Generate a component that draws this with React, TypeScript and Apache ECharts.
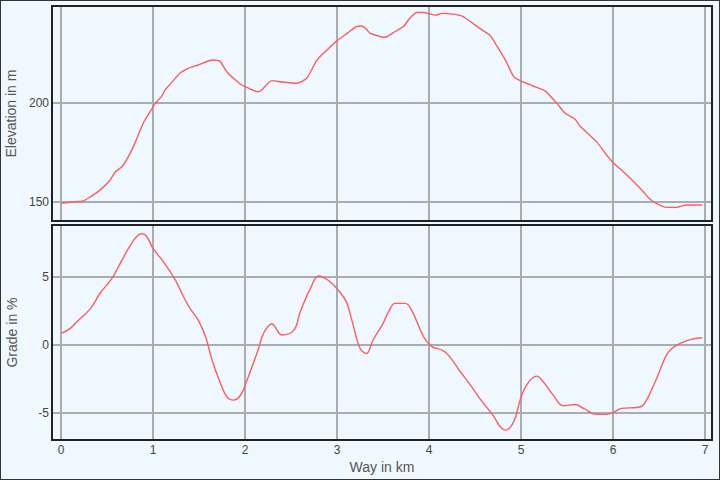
import React, { useEffect, useRef } from "react";
import * as echarts from "echarts";

const elevKm = [0, 0.12, 0.24, 0.32, 0.42, 0.53, 0.59, 0.66, 0.75, 0.8, 0.86, 0.91, 0.99, 1.02, 1.09, 1.13, 1.2, 1.29, 1.38, 1.49, 1.6, 1.66, 1.73, 1.8, 1.95, 2.02, 2.14, 2.18, 2.29, 2.4, 2.56, 2.67, 2.78, 2.89, 3.0, 3.11, 3.21, 3.27, 3.32, 3.36, 3.52, 3.61, 3.72, 3.79, 3.87, 3.94, 4.07, 4.14, 4.26, 4.36, 4.45, 4.55, 4.66, 4.74, 4.83, 4.92, 4.99, 5.13, 5.26, 5.39, 5.48, 5.59, 5.64, 5.82, 5.93, 6.0, 6.15, 6.33, 6.39, 6.47, 6.58, 6.69, 6.8, 6.97];
const elevM = [149.3, 150, 150.5, 152.7, 156, 161, 165.3, 167.8, 174.6, 179.6, 186.4, 191.4, 197.3, 199.8, 203.2, 206.6, 210.3, 215, 217.5, 219.2, 221.2, 221.7, 220.9, 215.8, 209.5, 207.9, 205.7, 206.6, 211.3, 210.6, 210, 212.5, 221.7, 226.8, 231.5, 235.2, 238.6, 238.9, 237.2, 235.2, 233.2, 235.5, 238.6, 242.8, 245.7, 245.7, 244.4, 245.3, 244.9, 243.9, 241.1, 237.7, 234.3, 228.5, 221.7, 213.3, 211.3, 208.6, 206.1, 199.8, 194.8, 191.7, 188.4, 180.5, 173.7, 170, 163.6, 155.2, 151.9, 149.3, 147.3, 147.3, 148.5, 148.5];

const gradeKm = [0, 0.1, 0.17, 0.32, 0.42, 0.55, 0.64, 0.73, 0.82, 0.88, 0.93, 1.0, 1.11, 1.24, 1.33, 1.4, 1.49, 1.57, 1.64, 1.73, 1.8, 1.87, 1.95, 2.02, 2.14, 2.2, 2.29, 2.4, 2.53, 2.6, 2.71, 2.8, 2.91, 3.01, 3.1, 3.16, 3.25, 3.32, 3.39, 3.5, 3.56, 3.63, 3.74, 3.81, 3.94, 4.03, 4.14, 4.21, 4.34, 4.45, 4.55, 4.68, 4.83, 4.92, 4.99, 5.06, 5.17, 5.24, 5.35, 5.46, 5.59, 5.68, 5.82, 5.93, 6.0, 6.09, 6.26, 6.33, 6.45, 6.58, 6.64, 6.73, 6.86, 6.97];
const gradePct = [0.86, 1.23, 1.72, 2.7, 3.8, 4.9, 6.0, 7.1, 8.0, 8.2, 8.0, 7.1, 6.15, 4.8, 3.56, 2.7, 1.84, 0.61, -1.1, -2.8, -3.8, -4.06, -3.7, -2.6, -0.37, 0.86, 1.55, 0.74, 1.1, 2.46, 4.18, 5.09, 4.74, 4.06, 3.2, 1.84, -0.25, -0.62, 0.37, 1.6, 2.46, 3.07, 3.07, 2.58, 0.61, -0.12, -0.37, -0.74, -1.97, -2.95, -3.93, -5.04, -6.27, -5.65, -4.06, -2.95, -2.29, -2.7, -3.69, -4.47, -4.38, -4.67, -5.11, -5.11, -4.99, -4.67, -4.6, -4.42, -2.83, -0.74, -0.25, 0.12, 0.44, 0.54];

const FONT = "'Liberation Sans', Arial, sans-serif";
const LINE = "#ff5c5c";
const GRIDC = "#a9adb2";

const GRID_L = 52;
const GRID_W = 660;
const TOP1 = 6;
const TOP2 = 225;
const GRID_H = 215;

export default function App() {
  const ref = useRef<HTMLDivElement>(null);
  useEffect(() => {
    if (!ref.current) return;
    const chart = echarts.init(ref.current, undefined, { renderer: "svg" });
    const xCommon = {
      type: "value" as const,
      min: -0.1,
      max: 7.076,
      splitNumber: 7,
      axisLine: { show: false },
      axisTick: { show: false },
      splitLine: { show: true, lineStyle: { color: GRIDC, width: 2 } },
    };
    const yCommon = {
      type: "value" as const,
      nameLocation: "middle" as const,
      nameGap: 33,
      nameTextStyle: { fontSize: 14, color: "#555", fontFamily: FONT },
      axisLine: { show: false },
      axisTick: { show: false },
      axisLabel: { showMinLabel: false, showMaxLabel: false, fontSize: 12, color: "#444", margin: 3, fontFamily: FONT },
      splitLine: { show: true, lineStyle: { color: GRIDC, width: 2 } },
    };
    chart.setOption({
      animation: false,
      backgroundColor: "transparent",
      textStyle: { fontFamily: FONT },
      grid: [
        { left: GRID_L, top: TOP1, width: GRID_W, height: GRID_H, outerBoundsMode: "none", containLabel: false },
        { left: GRID_L, top: TOP2, width: GRID_W, height: GRID_H, outerBoundsMode: "none", containLabel: false },
      ],
      graphic: [
        { type: "rect", z: 100, silent: true, shape: { x: GRID_L, y: TOP1, width: GRID_W, height: GRID_H }, style: { fill: "none", stroke: "#222", lineWidth: 2 } },
        { type: "rect", z: 100, silent: true, shape: { x: GRID_L, y: TOP2, width: GRID_W, height: GRID_H }, style: { fill: "none", stroke: "#222", lineWidth: 2 } },
      ],
      xAxis: [
        { ...xCommon, gridIndex: 0, axisLabel: { show: false } },
        {
          ...xCommon,
          gridIndex: 1,
          name: "Way in km",
          nameLocation: "middle",
          nameGap: 20,
          nameTextStyle: { fontSize: 14, color: "#555", fontFamily: FONT },
          axisLabel: { show: true, showMinLabel: false, showMaxLabel: false, fontSize: 12, color: "#444", margin: 4, fontFamily: FONT },
        },
      ],
      yAxis: [
        { ...yCommon, gridIndex: 0, min: 140.4, max: 249, splitNumber: 2, name: "Elevation in m" },
        { ...yCommon, gridIndex: 1, min: -7.0, max: 8.85, splitNumber: 3, name: "Grade in %" },
      ],
      series: [
        {
          type: "line",
          xAxisIndex: 0,
          yAxisIndex: 0,
          data: elevKm.map((k, i) => [k, elevM[i]]),
          showSymbol: false,
          smooth: 0.2,
          lineStyle: { color: LINE, width: 1.4 },
          z: 3,
        },
        {
          type: "line",
          xAxisIndex: 1,
          yAxisIndex: 1,
          data: gradeKm.map((k, i) => [k, gradePct[i]]),
          showSymbol: false,
          smooth: 0.4,
          lineStyle: { color: LINE, width: 1.4 },
          z: 3,
        },
      ],
    });
    return () => chart.dispose();
  }, []);
  return (
    <div style={{ position: "fixed", left: 0, top: 0, width: 720, height: 480, background: "#f0f8ff" }}>
      <div ref={ref} style={{ position: "absolute", left: 0, top: 0, width: 720, height: 480 }} />
      <div style={{ position: "absolute", left: 0, top: 0, width: 720, height: 480, boxSizing: "border-box", border: "1px solid #333", pointerEvents: "none" }} />
    </div>
  );
}
